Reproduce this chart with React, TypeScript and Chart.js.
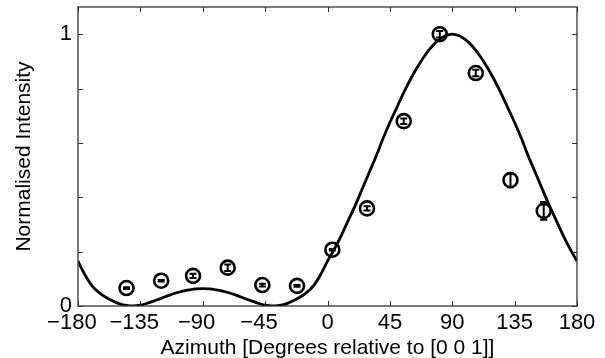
import React, { useEffect, useRef } from "react";
import { Chart, registerables } from "chart.js";

Chart.register(...registerables);

// Measured data points (azimuth in degrees, normalised intensity, error)
const pointAzimuth = [-145, -120, -97, -72, -47, -22, 3.5, 28.5, 55, 81, 107, 132, 156];
const pointIntensity = [0.066, 0.093, 0.111, 0.141, 0.077, 0.074, 0.207, 0.359, 0.68, 1.0, 0.857, 0.463, 0.35];
const pointError = [0.003, 0.003, 0.008, 0.012, 0.005, 0.003, 0.003, 0.008, 0.01, 0.012, 0.012, 0.026, 0.033];

// Fitted model curve
const curveAzimuth = [
  -180, -175, -170, -165, -160, -155, -150, -145, -140, -135, -130, -125, -120, -115, -110, -105, -100, -95, -90,
  -85, -80, -75, -70, -65, -60, -55, -50, -45, -40, -35, -30, -25, -20, -15, -10, -5, 0,
  5, 10, 15, 20, 25, 30, 35, 40, 45, 50, 55, 60, 65, 70, 75, 80, 85, 90,
  95, 100, 105, 110, 115, 120, 125, 130, 135, 140, 145, 150, 155, 160, 165, 170, 175, 180,
];
const curveIntensity = [
  0.165, 0.115, 0.075, 0.05, 0.032, 0.019, 0.008, 0.002, 0.0, 0.003, 0.01, 0.019, 0.028, 0.038, 0.047, 0.054, 0.059, 0.063, 0.064,
  0.063, 0.059, 0.054, 0.047, 0.038, 0.028, 0.019, 0.01, 0.003, 0.0, 0.002, 0.008, 0.019, 0.032, 0.05, 0.075, 0.115, 0.165,
  0.21, 0.26, 0.315, 0.37, 0.43, 0.49, 0.55, 0.615, 0.675, 0.73, 0.785, 0.835, 0.88, 0.92, 0.953, 0.978, 0.994, 1.0,
  0.994, 0.978, 0.953, 0.92, 0.88, 0.835, 0.785, 0.73, 0.675, 0.615, 0.55, 0.49, 0.43, 0.37, 0.315, 0.26, 0.21, 0.165,
];

const xTitle = "Azimuth [Degrees relative to [0 0 1]]";
const yTitle = "Normalised Intensity";
const yLabelled = [0, 1];

const FONT = "'Liberation Sans', Arial, Helvetica, sans-serif";

const framePlugin = {
  id: "frameAndErrors",
  afterDatasetsDraw(chart: any) {
    const { ctx, chartArea: a, scales } = chart;
    const x = scales.x;
    const y = scales.y;
    ctx.save();
    // error bars
    ctx.strokeStyle = "#000";
    ctx.lineWidth = 2;
    for (let i = 0; i < pointAzimuth.length; i++) {
      const px = x.getPixelForValue(pointAzimuth[i]);
      const p1 = y.getPixelForValue(pointIntensity[i] - pointError[i]);
      const p2 = y.getPixelForValue(pointIntensity[i] + pointError[i]);
      const w = 3.5;
      ctx.beginPath();
      ctx.moveTo(px, p1);
      ctx.lineTo(px, p2);
      ctx.moveTo(px - w, p1);
      ctx.lineTo(px + w, p1);
      ctx.moveTo(px - w, p2);
      ctx.lineTo(px + w, p2);
      ctx.stroke();
    }
    // frame
    ctx.strokeStyle = "#333";
    ctx.lineWidth = 1.3;
    ctx.strokeRect(a.left, a.top, a.right - a.left, a.bottom - a.top);
    const L = 5;
    ctx.beginPath();
    x.ticks.forEach((t: any) => {
      const px = Math.round(x.getPixelForValue(t.value)) + 0.5;
      ctx.moveTo(px, a.bottom);
      ctx.lineTo(px, a.bottom - L);
      ctx.moveTo(px, a.top);
      ctx.lineTo(px, a.top + L);
    });
    y.ticks.forEach((t: any) => {
      const py = Math.round(y.getPixelForValue(t.value)) + 0.5;
      ctx.moveTo(a.left, py);
      ctx.lineTo(a.left + L, py);
      ctx.moveTo(a.right, py);
      ctx.lineTo(a.right - L, py);
    });
    ctx.lineWidth = 1;
    ctx.stroke();
    ctx.restore();
  },
};

export default function App() {
  const ref = useRef<HTMLCanvasElement>(null);
  useEffect(() => {
    if (!ref.current) return;
    const chart = new Chart(ref.current, {
      type: "line",
      data: {
        datasets: [
          {
            label: "model",
            data: curveAzimuth.map((v, i) => ({ x: v, y: curveIntensity[i] })),
            borderColor: "#000",
            borderWidth: 2.8,
            pointRadius: 0,
            cubicInterpolationMode: "monotone",
            fill: false,
          },
          {
            label: "measured",
            data: pointAzimuth.map((v, i) => ({ x: v, y: pointIntensity[i] })),
            showLine: false,
            pointRadius: 7,
            pointBorderWidth: 2.6,
            pointBorderColor: "#000",
            pointBackgroundColor: "rgba(0,0,0,0)",
            borderColor: "#000",
          },
        ],
      },
      options: {
        animation: false,
        responsive: false,
        layout: { autoPadding: false, padding: { left: 0, top: 7, right: 28, bottom: 0 } },
        plugins: { legend: { display: false }, tooltip: { enabled: false } },
        scales: {
          x: {
            type: "linear",
            min: -180,
            max: 180,
            afterFit: (s: any) => {
              s.height = 52;
              s.paddingLeft = 0;
              s.paddingRight = 0;
            },
            ticks: {
              stepSize: 45,
              padding: 4,
              maxRotation: 0,
              autoSkip: false,
              color: "#000",
              font: { family: FONT, size: 22 },
              callback: (v: any) => (v < 0 ? "\u2212" + Math.abs(v) + "  " : String(v)),
            },
            grid: { display: false, drawTicks: false },
            border: { display: false },
            title: {
              display: true,
              text: xTitle,
              color: "#000",
              font: { family: FONT, size: 21 },
              padding: { top: 0, bottom: -3 },
            },
          },
          y: {
            type: "linear",
            min: 0,
            max: 1.1,
            afterFit: (s: any) => {
              s.width = 78;
              s.paddingTop = 0;
              s.paddingBottom = 0;
            },
            ticks: {
              stepSize: 0.2,
              includeBounds: false,
              padding: 6,
              color: "#000",
              font: { family: FONT, size: 22 },
              callback: (v: any) => {
                const hit = yLabelled.find((l) => Math.abs(l - v) < 1e-6);
                return hit === undefined ? "" : String(hit);
              },
            },
            grid: { display: false, drawTicks: false },
            border: { display: false },
            title: {
              display: true,
              text: yTitle,
              color: "#000",
              font: { family: FONT, size: 21 },
              padding: { top: 12, bottom: 0 },
            },
          },
        },
      },
      plugins: [framePlugin],
    } as any);
    return () => chart.destroy();
  }, []);
  return (
    <div style={{ position: "absolute", left: 0, top: 0, width: 605, height: 358, background: "#fff" }}>
      <canvas ref={ref} width={605} height={358} style={{ display: "block" }} />
    </div>
  );
}
